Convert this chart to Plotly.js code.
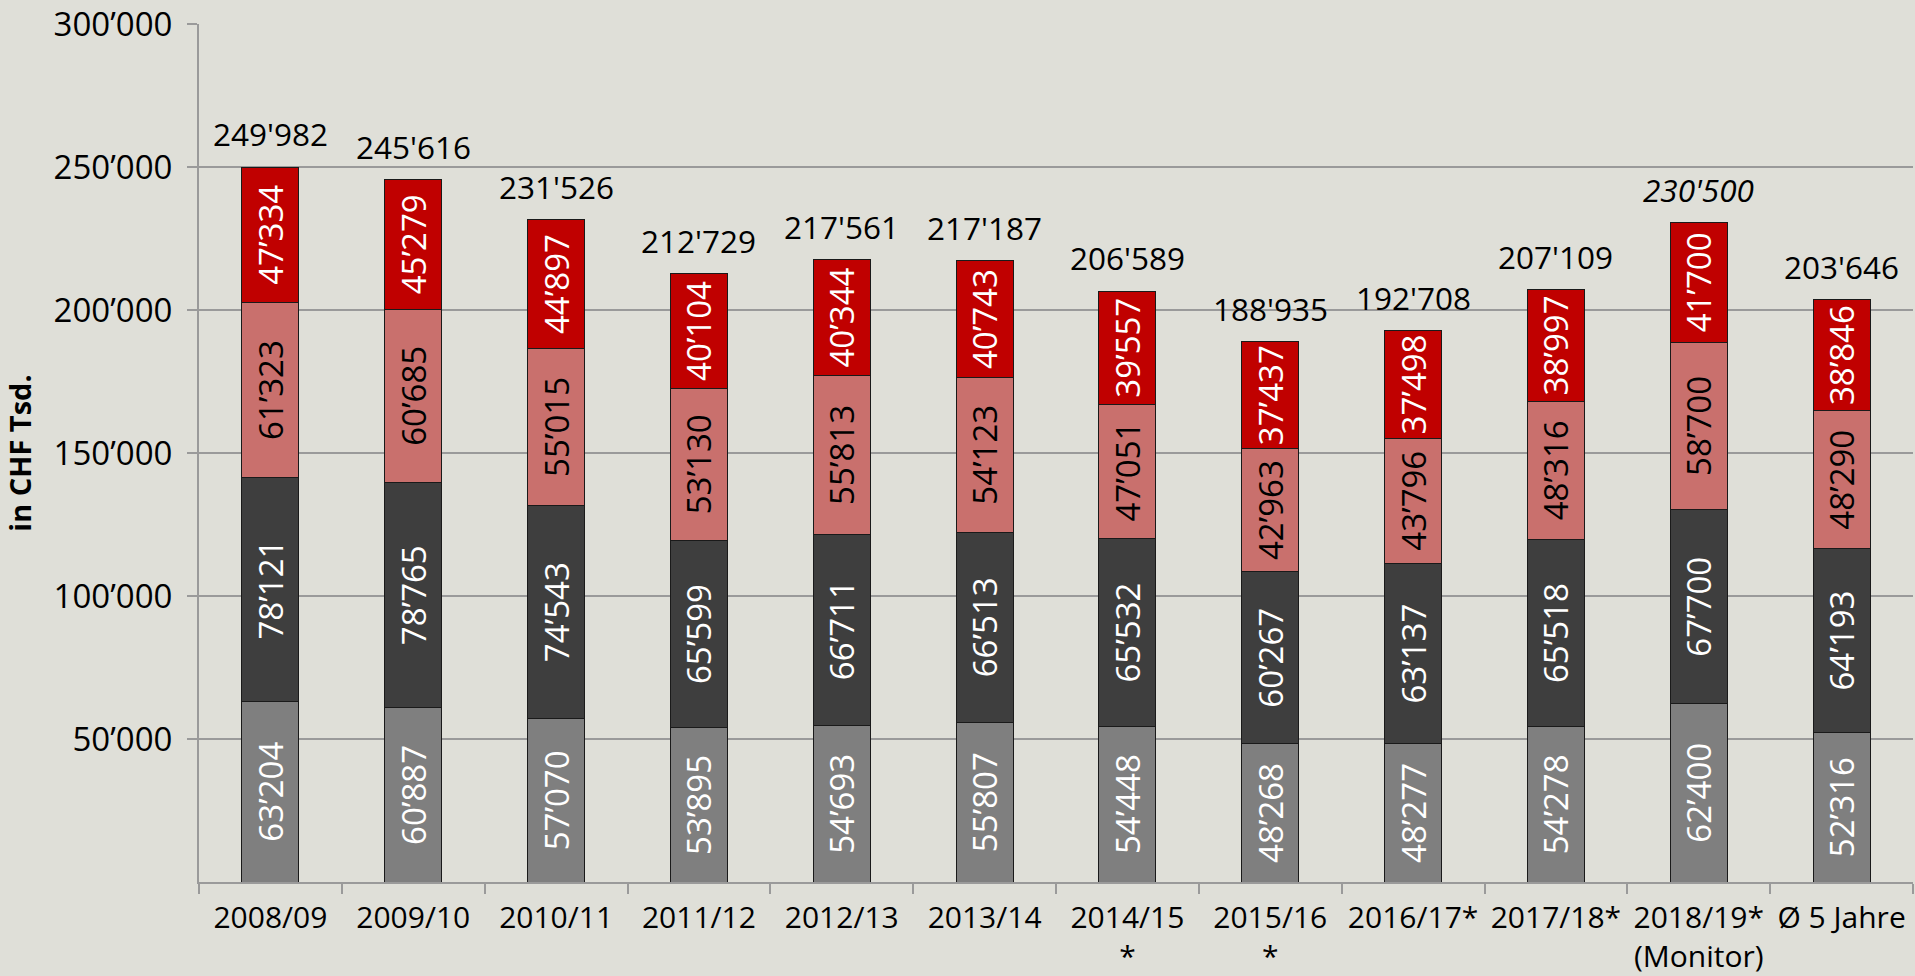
<!DOCTYPE html>
<html>
<head>
<meta charset="utf-8">
<script src="https://cdn.plot.ly/plotly-3.0.1.min.js"></script>
<style>
html,body{margin:0;padding:0;background:#dfdfd8;}
#chart{width:1915px;height:976px;}
</style>
</head>
<body>
<div id="chart"></div>
<script>
const categories = ["2008/09","2009/10","2010/11","2011/12","2012/13","2013/14","2014/15<br>*","2015/16<br>*","2016/17*","2017/18*","2018/19*<br>(Monitor)","Ø 5 Jahre"];
const seriesGrey = [63204, 60887, 57070, 53895, 54693, 55807, 54448, 48268, 48277, 54278, 62400, 52316];
const seriesDark = [78121, 78765, 74543, 65599, 66711, 66513, 65532, 60267, 63137, 65518, 67700, 64193];
const seriesPink = [61323, 60685, 55015, 53130, 55813, 54123, 47051, 42963, 43796, 48316, 58700, 48290];
const seriesRed  = [47334, 45279, 44897, 40104, 40344, 40743, 39557, 37437, 37498, 38997, 41700, 38846];
const totals     = [249982, 245616, 231526, 212729, 217561, 217187, 206589, 188935, 192708, 207109, 230500, 203646];
const italicTotal = [false,false,false,false,false,false,false,false,false,false,true,false];
const yTickVals = [50000,100000,150000,200000,250000,300000];
const yTickText = ["50’000","100’000","150’000","200’000","250’000","300’000"];

function fmt(v, sep){
  const s = String(v);
  return s.length > 3 ? s.slice(0, s.length-3) + sep + s.slice(s.length-3) : s;
}

const FONT = "Open Sans, DejaVu Sans, sans-serif";

function mk(vals, color, textColor){
  return {
    type: "bar",
    x: categories,
    y: vals,
    text: vals.map(v => fmt(v, "’")),
    textposition: "inside",
    insidetextanchor: "middle",
    textangle: -90,
    constraintext: "none",
    textfont: {family: FONT, size: 33, color: textColor},
    marker: {color: color, line: {color: "#1a1a1a", width: 1}},
    hoverinfo: "skip",
    cliponaxis: false
  };
}

const data = [
  mk(seriesGrey, "#7f7f7f", "#ffffff"),
  mk(seriesDark, "#3e3e3e", "#ffffff"),
  mk(seriesPink, "#c9706d", "#000000"),
  mk(seriesRed,  "#c00000", "#ffffff")
];

const annotations = totals.map((t, i) => ({
  x: categories[i],
  y: t,
  xref: "x",
  yref: "y",
  text: fmt(t, "'"),
  showarrow: false,
  yanchor: "bottom",
  yshift: 10,
  font: {family: FONT, size: 31.5, color: "#000000", style: italicTotal[i] ? "italic" : "normal"}
}));

const layout = {
  width: 1915,
  height: 976,
  paper_bgcolor: "#dfdfd8",
  plot_bgcolor: "#dfdfd8",
  barmode: "stack",
  bargap: 0.6,
  showlegend: false,
  margin: {l: 199, r: 2, t: 24, b: 94, pad: 0},
  font: {family: FONT, color: "#000000"},
  xaxis: {
    type: "category",
    tickson: "boundaries",
    ticks: "outside",
    ticklen: 10,
    tickwidth: 2,
    tickcolor: "#9a9a9a",
    showline: true,
    linecolor: "#9a9a9a",
    linewidth: 2,
    showgrid: false,
    tickangle: 0,
    tickfont: {family: FONT, size: 30, color: "#000000"},
    ticklabelstandoff: 8,
    fixedrange: true
  },
  yaxis: {
    range: [0, 300000],
    tickvals: yTickVals,
    ticktext: yTickText,
    ticks: "outside",
    ticklen: 10,
    tickwidth: 2,
    tickcolor: "#9a9a9a",
    showline: true,
    linecolor: "#9a9a9a",
    linewidth: 2,
    showgrid: true,
    gridcolor: "#9a9a9a",
    gridwidth: 2,
    zeroline: false,
    tickfont: {family: FONT, size: 33, color: "#000000"},
    ticklabelstandoff: 8,
    title: {text: "<b>in CHF Tsd.</b>", font: {family: FONT, size: 29, color: "#000000"}, standoff: 18},
    fixedrange: true
  },
  annotations: annotations
};

Plotly.newPlot("chart", data, layout, {displayModeBar: false, staticPlot: true});
</script>
</body>
</html>
